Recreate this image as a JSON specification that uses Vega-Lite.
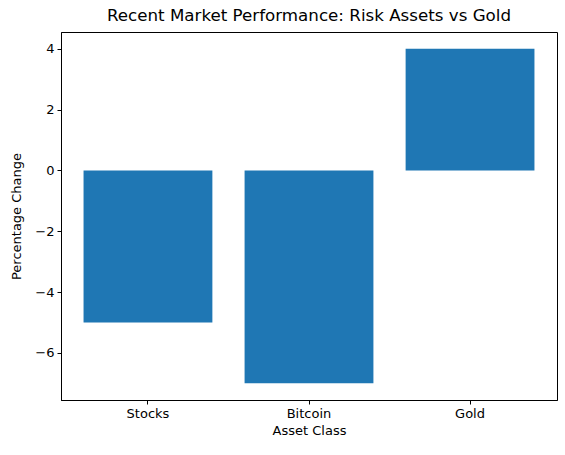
{
  "$schema": "https://vega.github.io/schema/vega-lite/v6.json",
  "width": 496,
  "height": 368,
  "autosize": "none",
  "padding": {"left": 61, "top": 32, "right": 8, "bottom": 55},
  "background": "white",
  "title": {
    "text": "Recent Market Performance: Risk Assets vs Gold",
    "font": "DejaVu Sans",
    "fontSize": 16.7,
    "fontWeight": "normal",
    "color": "black",
    "offset": 7
  },
  "data": {
    "values": [
      {"asset": "Stocks", "change": -5},
      {"asset": "Bitcoin", "change": -7},
      {"asset": "Gold", "change": 4}
    ]
  },
  "mark": {"type": "bar", "color": "#1f77b4"},
  "encoding": {
    "x": {
      "field": "asset",
      "type": "nominal",
      "sort": null,
      "title": "Asset Class",
      "scale": {"paddingInner": 0.2, "paddingOuter": 0.14},
      "axis": {"labelAngle": 0, "titlePadding": 4}
    },
    "y": {
      "field": "change",
      "type": "quantitative",
      "title": "Percentage Change",
      "scale": {"domain": [-7.55, 4.55], "nice": false, "zero": false},
      "axis": {"values": [-6, -4, -2, 0, 2, 4], "grid": false, "titlePadding": 11}
    }
  },
  "config": {
    "view": {"stroke": "black", "strokeWidth": 1},
    "axis": {
      "labelFont": "DejaVu Sans",
      "labelFontSize": 13,
      "labelColor": "black",
      "titleFont": "DejaVu Sans",
      "titleFontSize": 13,
      "titleFontWeight": "normal",
      "titleColor": "black",
      "domainColor": "black",
      "tickColor": "black",
      "tickSize": 4,
      "labelPadding": 3,
      "grid": false
    }
  }
}
